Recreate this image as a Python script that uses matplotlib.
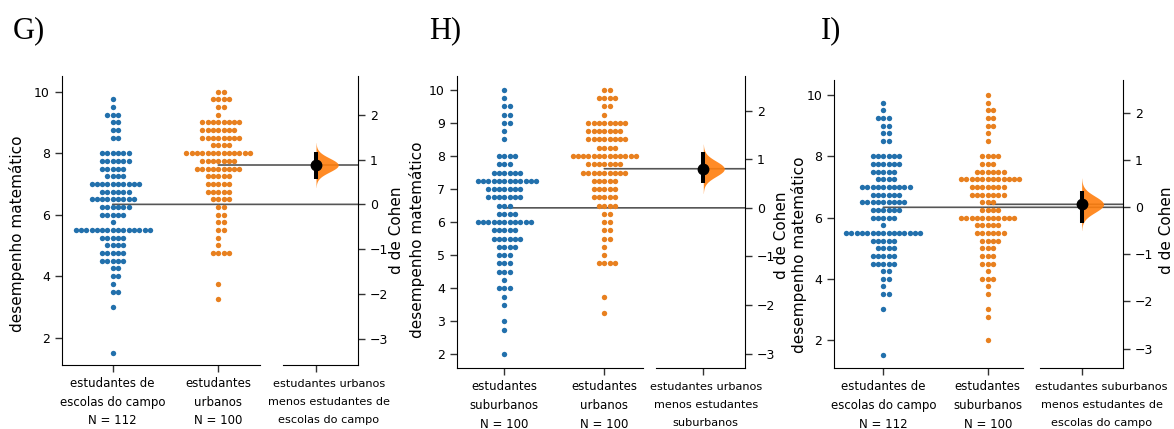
import numpy as np
import matplotlib
matplotlib.use("Agg")
import matplotlib.pyplot as plt
from matplotlib.patches import ConnectionPatch
from matplotlib.ticker import MultipleLocator
from matplotlib.transforms import offset_copy

campo_levels = [9.75, 9.5, 9.25, 9.0, 8.75, 8.5, 8.0, 7.75, 7.5, 7.25, 7.0, 6.75, 6.5, 6.25,
                6.0, 5.75, 5.5, 5.25, 5.0, 4.75, 4.5, 4.25, 4.0, 3.75, 3.5, 3.0, 1.5]
campo_counts = [1, 1, 3, 2, 2, 2, 6, 6, 5, 4, 10, 6, 9, 6,
                5, 1, 15, 5, 4, 5, 5, 2, 2, 1, 2, 1, 1]

urbanos_levels = [10.0, 9.75, 9.5, 9.25, 9.0, 8.75, 8.5, 8.25, 8.0, 7.75, 7.5, 7.25, 7.0, 6.75,
                  6.5, 6.25, 6.0, 5.75, 5.5, 5.25, 5.0, 4.75, 3.75, 3.25]
urbanos_counts = [2, 4, 2, 1, 8, 7, 8, 4, 13, 7, 9, 5, 5, 5,
                  4, 2, 2, 2, 2, 1, 1, 4, 1, 1]

suburbanos_levels = [10.0, 9.75, 9.5, 9.25, 9.0, 8.75, 8.5, 8.0, 7.75, 7.5, 7.25, 7.0, 6.75, 6.5,
                     6.25, 6.0, 5.75, 5.5, 5.25, 5.0, 4.75, 4.5, 4.25, 4.0, 3.75, 3.5, 3.0, 2.75, 2.0]
suburbanos_counts = [1, 1, 2, 2, 2, 1, 1, 4, 3, 6, 12, 7, 7, 3,
                     4, 11, 5, 6, 4, 3, 3, 3, 1, 3, 1, 1, 1, 1, 1]

# 95% bootstrap CI of Cohen's d for each panel
ci_G = [0.56, 1.17]
ci_H = [0.52, 1.14]
ci_I = [-0.34, 0.34]

groups = {
    "campo": np.repeat(campo_levels, campo_counts),
    "urbanos": np.repeat(urbanos_levels, urbanos_counts),
    "suburbanos": np.repeat(suburbanos_levels, suburbanos_counts),
}
names = {
    "campo": "estudantes de\nescolas do campo",
    "urbanos": "estudantes\nurbanos",
    "suburbanos": "estudantes\nsuburbanos",
}
BLUE = "#2270ac"
ORANGE = "#e8801f"
LINE = "#555555"

W, H = 1174, 429
plt.rcParams["font.family"] = ["DejaVu Sans"]

# pixel boxes: raw axes (left, right, top, bottom), contrast axes (left, right)
panels = [
    dict(letter="G)", lx=12.7, ctrl="campo", test="urbanos", ci=ci_G,
         raw=(61.7, 260, 76, 365), con=(282.7, 358.3), ylim=(1.11, 10.51), ystep=2,
         xlim=(-0.483, 1.395), cxlim=(-0.315, 0.40),
         diff_label="estudantes urbanos\nmenos estudantes de\nescolas do campo", diff_x=0.612,
         ylab=(-0.183, 0.455), clab=(1.40, 0.467)),
    dict(letter="H)", lx=429, ctrl="suburbanos", test="urbanos", ci=ci_H,
         raw=(456.7, 642.7, 76, 368.3), con=(656, 745), ylim=(1.58, 10.42), ystep=1,
         xlim=(-0.476, 1.384), cxlim=(-0.473, 0.417),
         diff_label="estudantes urbanos\nmenos estudantes\nsuburbanos", diff_x=0.558,
         ylab=(-0.168, 0.439), clab=(1.33, 0.456)),
    dict(letter="I)", lx=821, ctrl="campo", test="suburbanos", ci=ci_I,
         raw=(834.3, 1023.3, 80, 368.3), con=(1040, 1123.3), ylim=(1.08, 10.49), ystep=2,
         xlim=(-0.469, 1.341), cxlim=(-0.40, 0.40),
         diff_label="estudantes suburbanos\nmenos estudantes de\nescolas do campo", diff_x=0.741,
         ylab=(-0.147, 0.393), clab=(1.43, 0.48)),
]


def box(l, r, t, b):
    return [l / W, (H - b) / H, (r - l) / W, (b - t) / H]


def swarm_x(values, center, step):
    x = np.full(len(values), float(center))
    for v in np.unique(values):
        idx = np.where(values == v)[0]
        k = np.arange(len(idx))
        off = (k + 1) // 2 * np.where(k % 2 == 1, 1, -1)
        x[idx] = center + off * step
    return x


def cohen_d(c, t):
    n1, n2 = len(c), len(t)
    sd = np.sqrt(((n1 - 1) * c.var(ddof=1) + (n2 - 1) * t.var(ddof=1)) / (n1 + n2 - 2))
    return (t.mean() - c.mean()) / sd, sd


fig = plt.figure(figsize=(W / 100, H / 100), dpi=100)
marker_s = 15
dot_px = 5.3

for p in panels:
    l, r, t, b = p["raw"]
    ax = fig.add_axes(box(l, r, t, b))
    cax = fig.add_axes(box(p["con"][0], p["con"][1], t, b))
    for a in (ax, cax):
        a.set_facecolor("none")
        a.spines["top"].set_visible(False)
        a.tick_params(labelsize=9, length=5, width=1, color="#333333")
    ax.spines["right"].set_visible(False)
    cax.spines["left"].set_visible(False)

    ctrl = groups[p["ctrl"]]
    test = groups[p["test"]]
    ax.set_xlim(*p["xlim"])
    ax.set_ylim(*p["ylim"])
    step = dot_px / ((r - l) / (p["xlim"][1] - p["xlim"][0]))
    for i, (vals, col) in enumerate([(ctrl, BLUE), (test, ORANGE)]):
        ax.scatter(swarm_x(vals, i, step), vals, s=marker_s, color=col, lw=0, zorder=3)
    ax.yaxis.set_major_locator(MultipleLocator(p["ystep"]))
    ax.set_xticks([0, 1])
    ax.set_xticklabels([names[p["ctrl"]] + "\nN = %d" % len(ctrl),
                        names[p["test"]] + "\nN = %d" % len(test)],
                       fontsize=8.5, linespacing=1.58)
    ax.set_ylabel("desempenho matemático", fontsize=11)
    ax.yaxis.set_label_coords(*p["ylab"])

    # effect size axis: 0 at control mean, d at test mean
    d, sd = cohen_d(ctrl, test)
    lo, hi = p["ylim"]
    cax.set_ylim((lo - ctrl.mean()) / sd, (hi - ctrl.mean()) / sd)
    cax.set_xlim(*p["cxlim"])
    cax.yaxis.tick_right()
    cax.yaxis.set_label_position("right")
    cax.yaxis.set_major_locator(MultipleLocator(1))
    cax.set_xticks([0])
    cax.set_xticklabels([""])
    cax.text(p["diff_x"], 0, p["diff_label"],
             transform=offset_copy(cax.transAxes, fig=fig, y=-9.8, units="points"),
             ha="center", va="top", fontsize=8.1, linespacing=2.0)
    cax.set_ylabel("d de Cohen", fontsize=11)
    cax.yaxis.set_label_coords(*p["clab"])

    sigma = (p["ci"][1] - p["ci"][0]) / 3.92
    yy = np.linspace(d - 3.2 * sigma, d + 3.2 * sigma, 200)
    ww = 0.21 * np.exp(-0.5 * ((yy - d) / sigma) ** 2)
    cax.fill_betweenx(yy, 0, ww, color="#ff7f0e", alpha=0.9, lw=0, zorder=2)
    cax.plot([0, 0], p["ci"], color="black", lw=2.9, solid_capstyle="butt", zorder=4)
    cax.plot(0, d, "o", color="black", ms=7.5, zorder=5)

    for gx, m, dv in [(0, ctrl.mean(), 0.0), (1, test.mean(), d)]:
        con = ConnectionPatch(xyA=(gx, m), coordsA=ax.transData,
                              xyB=(1, dv), coordsB=cax.get_yaxis_transform(),
                              arrowstyle="-", color=LINE, lw=1.2, zorder=1)
        ax.add_artist(con)
        con.set_clip_on(False)

    fig.text(p["lx"] / W, 1 - 38.3 / H, p["letter"], fontsize=22,
             family="Liberation Serif", va="baseline")

fig.savefig("out.png", dpi=100)
